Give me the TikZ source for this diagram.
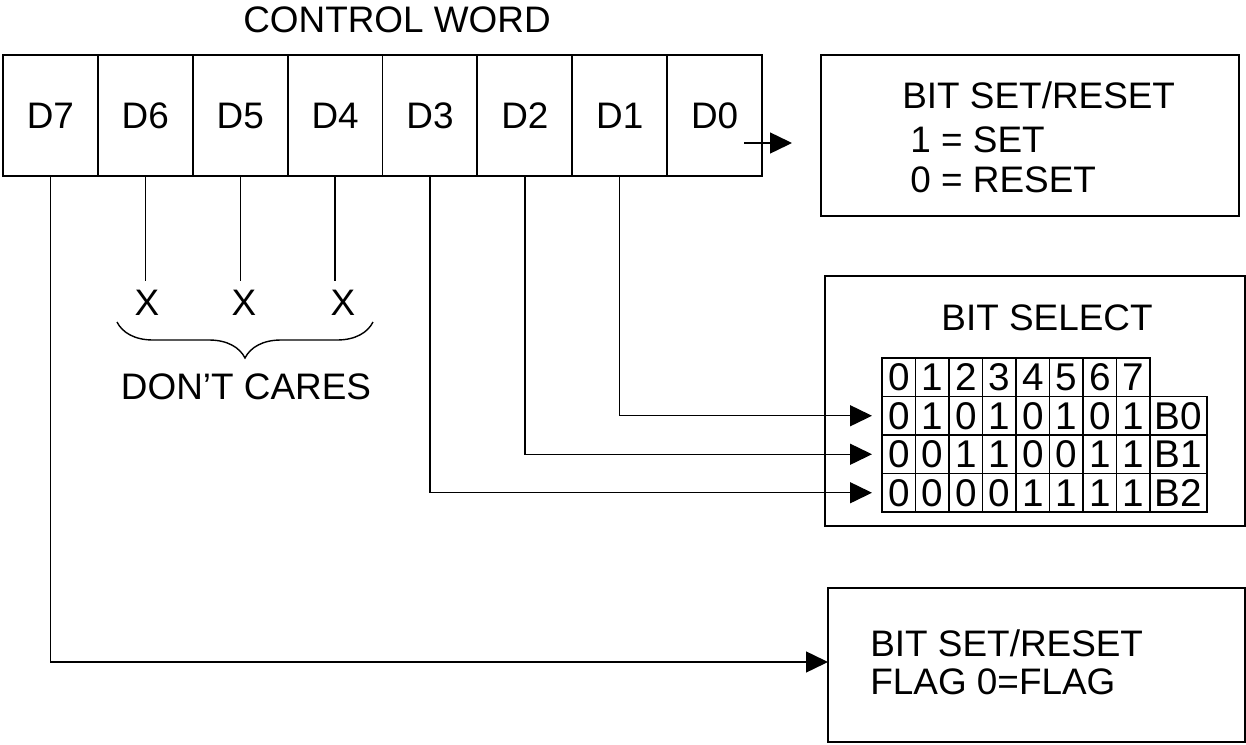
\documentclass[tikz,border=0pt]{standalone}
\usepackage{fontspec}
\setmainfont{Liberation Sans}
\usetikzlibrary{arrows.meta, positioning, decorations.pathreplacing}

\tikzset{
  bitbox/.style={draw, line width=1.1pt, minimum width=1.898cm, minimum height=2.42cm,
    inner sep=0pt, outer sep=0pt, font=\fontsize{21}{25}\selectfont},
  infobox/.style={draw, line width=1.1pt, inner sep=0pt, outer sep=0pt, anchor=north west},
  bitcell/.style={draw, line width=0.7pt, minimum width=0.67cm, minimum height=0.77cm,
    inner sep=0pt, outer sep=0pt, font=\fontsize{22}{24}\selectfont},
  txt/.style={inner sep=0pt, font=\fontsize{21}{25}\selectfont},
  conn/.style={line width=0.8pt},
  arr/.style={conn, -{Triangle[length=0.44cm, width=0.42cm]}},
}

\begin{document}
\begin{tikzpicture}[x=0.02cm, y=-0.02cm]
    \useasboundingbox (0,0) rectangle (1246,744);

    % the control word register
    \node[txt] (title) at (397,20) {CONTROL WORD};
    \node[bitbox, anchor=north west] (d7) at (3,55) {D7};
    \node[bitbox, right=0pt of d7] (d6) {D6};
    \node[bitbox, right=0pt of d6] (d5) {D5};
    \node[bitbox, right=0pt of d5] (d4) {D4};
    \node[bitbox, right=0pt of d4] (d3) {D3};
    \node[bitbox, right=0pt of d3] (d2) {D2};
    \node[bitbox, right=0pt of d2] (d1) {D1};
    \node[bitbox, right=0pt of d1] (d0) {D0};

    % D0 -> bit set/reset
    \node[infobox, minimum width=8.36cm, minimum height=3.22cm] (setbox) at (821,55) {};
    \node[txt, anchor=west] (setttl) at (902,95) {BIT SET/RESET};
    \node[txt, anchor=west] (setone) at (910,140) {1 = SET};
    \node[txt, anchor=west] (setzero) at (910,180) {0 = RESET};
    \coordinate (d0in) at (744,143);
    \coordinate (d0out) at (792,143);
    \draw[arr] (d0in) -- (d0out);

    % don't cares
    \node[txt] (x6) at (147,303) {X};
    \node[txt] (x5) at (244,303) {X};
    \node[txt] (x4) at (343,303) {X};
    \draw[conn] (d6.south) -- ([yshift=0.18cm]d6.south |- x6.north);
    \draw[conn] (d5.south) -- ([yshift=0.18cm]d5.south |- x5.north);
    \draw[conn] (d4.south) -- ([yshift=0.18cm]d4.south |- x4.north);
    \coordinate (bl) at (117,322);
    \coordinate (br) at (373,322);
    \draw[conn, decorate, decoration={brace, mirror, amplitude=0.72cm}] (bl) -- (br);
    \node[txt] (dc) at (246,387) {DON’T CARES};

    % bit select
    \node[infobox, minimum width=8.4cm, minimum height=5cm] (selbox) at (825,276) {};
    \node[txt] (selttl) at (1047,318) {BIT SELECT};
    \foreach \i in {0,...,7}
        \node[bitcell] (h\i) at ({898.75+33.5*\i},377.25) {\i};
    \foreach \bits [count=\r from 0] in {{0,1,0,1,0,1,0,1},{0,0,1,1,0,0,1,1},{0,0,0,0,1,1,1,1}} {
        \foreach \v [count=\c from 0] in \bits
            \node[bitcell] (r\r-\c) at ({898.75+33.5*\c},{415.75+38.5*\r}) {\v};
        \node[bitcell, minimum width=1.14cm, right=0pt of r\r-7] (b\r) {B\r};
    }
    \draw[arr] (d1.south) |- ([xshift=-0.2cm]r0-0.west);
    \draw[arr] (d2.south) |- ([xshift=-0.2cm]r1-0.west);
    \draw[arr] (d3.south) |- ([xshift=-0.2cm]r2-0.west);

    % D7 -> flag
    \node[infobox, minimum width=8.34cm, minimum height=3.08cm] (flagbox) at (828,588) {};
    \node[txt, anchor=west] (flagttl) at (870,643) {BIT SET/RESET};
    \node[txt, anchor=west] (flagval) at (870,682) {FLAG 0=FLAG};
    \draw[arr] (d7.south) |- ([yshift=0.06cm]flagbox.west);

\end{tikzpicture}
\end{document}
